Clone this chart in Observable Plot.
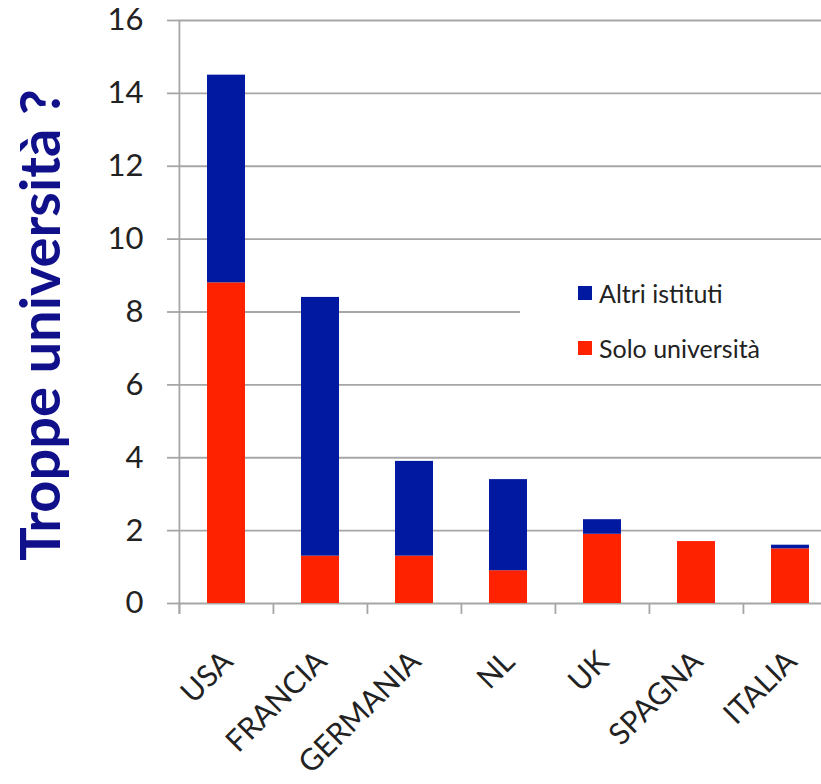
<!DOCTYPE html>
<html>
<head>
<meta charset="utf-8">
<script src="https://cdn.jsdelivr.net/npm/d3@7"></script>
<script src="https://cdn.jsdelivr.net/npm/@observablehq/plot@0.6"></script>
<style>
  html, body { margin: 0; padding: 0; background: #fff; }
  #wrap { position: relative; width: 821px; height: 784px; overflow: hidden; font-family: Lato, "Open Sans", sans-serif; }
  #legend { position: absolute; left: 520px; top: 252px; width: 301px; height: 122px; background: #fff; }
  .item { position: absolute; left: 58px; display: flex; align-items: center; font-size: 25px; color: #222; white-space: nowrap; }
  .sw { width: 14px; height: 14px; margin-right: 7px; }
</style>
</head>
<body>
<div id="wrap"></div>
<script>
const countries = ["USA", "FRANCIA", "GERMANIA", "NL", "UK", "SPAGNA", "ITALIA"];
const soloUniversita = [8.8, 1.3, 1.3, 0.9, 1.9, 1.7, 1.5];
const altriIstituti = [5.7, 7.1, 2.6, 2.5, 0.4, 0, 0.1];
const seriesNames = ["Solo università", "Altri istituti"];
const seriesColors = ["#ff2200", "#0019a0"];
const yTicks = [0, 2, 4, 6, 8, 10, 12, 14, 16];
const yTitle = "Troppe università ?";

const data = [];
countries.forEach((c, i) => {
  data.push({country: c, series: seriesNames[0], value: soloUniversita[i]});
  data.push({country: c, series: seriesNames[1], value: altriIstituti[i]});
});

const W = 821, H = 784;
const mL = 178, mT = 20, mB = 181;
const xRange = [178, 837];
const step = (xRange[1] - xRange[0]) / countries.length;
const gridColor = "#a6a6a6";

const chart = Plot.plot({
  width: W,
  height: H,
  marginLeft: mL,
  marginRight: 0,
  marginTop: mT,
  marginBottom: mB,
  style: {fontFamily: "Lato, 'Open Sans', sans-serif", background: "#fff", overflow: "hidden"},
  x: {domain: countries, range: xRange, paddingInner: 0.6, paddingOuter: 0.3, axis: null},
  y: {domain: [0, 16], axis: null},
  color: {domain: seriesNames, range: seriesColors},
  marks: [
    Plot.ruleY(yTicks, {y: d => d, stroke: gridColor, strokeWidth: 1.8}),
    Plot.axisY({ticks: yTicks, tickSize: 11, tickPadding: 24, fontSize: 31, color: "#222", stroke: gridColor, strokeWidth: 1.8, tickFormat: d => d, label: null, strokeOpacity: 1}),
    Plot.ruleX([countries[0]], {x: d => d, dx: -step / 2, y1: -0.3, y2: 16, stroke: gridColor, strokeWidth: 1.8}),
    Plot.ruleX(countries, {x: d => d, dx: -step / 2, y1: 0, y2: -0.3, stroke: gridColor, strokeWidth: 1.8}),
    Plot.barY(data, Plot.stackY({x: "country", y: "value", fill: "series", order: seriesNames})),
    Plot.text(countries, {x: d => d, frameAnchor: "bottom", rotate: -45, textAnchor: "end", dx: 8, dy: 60, fontSize: 30, fill: "#222"}),
    Plot.text([yTitle], {frameAnchor: "left", textAnchor: "middle", rotate: -90, dx: -136, dy: 13, fontSize: 56, fontWeight: "bold", fill: "#10108a"})
  ]
});

const wrap = document.getElementById("wrap");
wrap.appendChild(chart);

const legend = document.createElement("div");
legend.id = "legend";
const legendItems = [[seriesNames[1], seriesColors[1], 26], [seriesNames[0], seriesColors[0], 81]];
legendItems.forEach(([name, color, top]) => {
  const it = document.createElement("div");
  it.className = "item";
  it.style.top = top + "px";
  const sw = document.createElement("span");
  sw.className = "sw";
  sw.style.background = color;
  const t = document.createElement("span");
  t.textContent = name;
  it.appendChild(sw);
  it.appendChild(t);
  legend.appendChild(it);
});
wrap.appendChild(legend);
</script>
</body>
</html>
